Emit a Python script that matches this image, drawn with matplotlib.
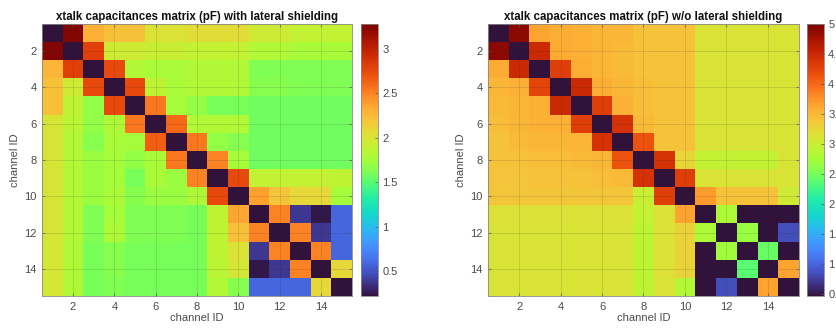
import matplotlib
matplotlib.use("Agg")
import matplotlib.pyplot as plt
import numpy as np

plt.rcParams['font.family'] = ['Liberation Sans', 'DejaVu Sans']

# channel IDs and tick values
channels = list(range(1, 16))
axis_ticks = [2, 4, 6, 8, 10, 12, 14]
cbar_ticks_shield = [0.5, 1, 1.5, 2, 2.5, 3]
cbar_ticks_noshield = [0.5, 1, 1.5, 2, 2.5, 3, 3.5, 4, 4.5, 5]

# xtalk capacitances (pF) with lateral shielding, rows = channel, cols = channel
cap_shield = [
    [0.20, 3.25, 2.30, 2.22, 2.22, 2.02, 2.02, 2.05, 2.05, 2.05, 1.95, 1.95, 1.90, 1.90, 1.90],
    [3.25, 0.20, 2.80, 1.95, 1.95, 1.92, 1.92, 1.90, 1.90, 1.90, 1.82, 1.82, 1.78, 1.78, 1.78],
    [2.28, 2.80, 0.20, 2.75, 1.82, 1.78, 1.78, 1.82, 1.82, 1.82, 1.62, 1.62, 1.62, 1.62, 1.62],
    [2.22, 1.95, 2.75, 0.20, 2.75, 1.88, 1.78, 1.82, 1.82, 1.82, 1.65, 1.65, 1.62, 1.62, 1.62],
    [2.22, 1.88, 1.68, 2.75, 0.20, 2.55, 1.75, 1.68, 1.60, 1.60, 1.58, 1.58, 1.58, 1.58, 1.58],
    [2.00, 1.85, 1.68, 1.80, 2.55, 0.20, 2.60, 1.82, 1.82, 1.82, 1.58, 1.58, 1.58, 1.58, 1.58],
    [2.00, 1.82, 1.65, 1.78, 1.75, 2.65, 0.20, 2.55, 1.68, 1.65, 1.58, 1.58, 1.58, 1.58, 1.58],
    [2.00, 1.82, 1.72, 1.75, 1.68, 1.78, 2.55, 0.20, 2.50, 1.75, 1.58, 1.58, 1.58, 1.58, 1.58],
    [2.00, 1.82, 1.72, 1.75, 1.60, 1.78, 1.72, 2.50, 0.20, 2.75, 1.90, 1.90, 1.90, 1.90, 1.88],
    [2.00, 1.82, 1.72, 1.78, 1.65, 1.72, 1.72, 1.80, 2.75, 0.20, 2.38, 2.20, 2.08, 2.08, 1.75],
    [2.00, 1.82, 1.62, 1.75, 1.62, 1.62, 1.62, 1.60, 1.88, 2.35, 0.20, 2.50, 0.38, 0.25, 0.58],
    [2.00, 1.82, 1.62, 1.80, 1.62, 1.62, 1.62, 1.60, 1.88, 2.22, 2.50, 0.20, 2.50, 0.38, 0.58],
    [1.98, 1.80, 1.60, 1.65, 1.60, 1.60, 1.60, 1.60, 1.88, 2.02, 0.38, 2.50, 0.20, 2.50, 0.58],
    [1.98, 1.80, 1.60, 1.65, 1.60, 1.60, 1.60, 1.60, 1.85, 1.98, 0.25, 0.38, 2.50, 0.20, 2.08],
    [1.98, 1.80, 1.60, 1.62, 1.60, 1.60, 1.60, 1.60, 1.82, 1.65, 0.58, 0.58, 0.58, 2.08, 0.20],
]

# xtalk capacitances (pF) without lateral shielding
cap_noshield = [
    [0.40, 4.90, 3.65, 3.58, 3.55, 3.52, 3.50, 3.42, 3.42, 3.42, 3.12, 3.12, 3.12, 3.12, 3.12],
    [4.90, 0.40, 4.50, 3.60, 3.55, 3.52, 3.48, 3.42, 3.42, 3.42, 3.12, 3.12, 3.12, 3.12, 3.12],
    [3.60, 4.50, 0.40, 4.30, 3.58, 3.52, 3.48, 3.42, 3.42, 3.42, 3.12, 3.12, 3.12, 3.12, 3.12],
    [3.50, 3.55, 4.25, 0.40, 4.50, 3.58, 3.50, 3.45, 3.42, 3.42, 3.12, 3.12, 3.12, 3.12, 3.12],
    [3.48, 3.52, 3.55, 4.50, 0.40, 4.30, 3.55, 3.45, 3.42, 3.42, 3.12, 3.12, 3.12, 3.12, 3.12],
    [3.45, 3.50, 3.55, 3.55, 4.30, 0.40, 4.40, 3.48, 3.42, 3.42, 3.12, 3.12, 3.12, 3.12, 3.12],
    [3.42, 3.48, 3.50, 3.50, 3.52, 4.40, 0.40, 4.15, 3.42, 3.42, 3.12, 3.12, 3.12, 3.12, 3.12],
    [3.42, 3.42, 3.45, 3.45, 3.48, 3.50, 4.15, 0.40, 4.40, 3.25, 2.95, 2.95, 2.95, 2.95, 3.10],
    [3.40, 3.40, 3.42, 3.42, 3.42, 3.45, 3.48, 4.40, 0.40, 4.30, 3.12, 3.12, 3.12, 3.12, 3.12],
    [3.38, 3.38, 3.38, 3.38, 3.38, 3.38, 3.38, 3.00, 4.30, 0.40, 3.70, 3.42, 3.42, 3.42, 3.05],
    [3.15, 3.15, 3.15, 3.15, 3.15, 3.15, 3.15, 2.95, 3.15, 3.65, 0.40, 2.80, 0.40, 0.40, 0.40],
    [3.12, 3.12, 3.12, 3.12, 3.12, 3.12, 3.12, 2.92, 3.15, 3.28, 2.80, 0.40, 2.68, 0.40, 0.85],
    [3.12, 3.12, 3.12, 3.12, 3.12, 3.12, 3.12, 2.92, 3.15, 3.28, 0.40, 2.72, 0.40, 2.45, 0.40],
    [3.12, 3.12, 3.12, 3.12, 3.12, 3.12, 3.12, 2.92, 3.15, 3.28, 0.40, 0.40, 2.38, 0.40, 3.65],
    [3.12, 3.12, 3.12, 3.12, 3.12, 3.12, 3.12, 2.92, 3.12, 2.85, 0.40, 0.85, 0.40, 3.65, 0.40],
]

titles = ["xtalk capacitances matrix (pF) with lateral shielding",
          "xtalk capacitances matrix (pF) w/o lateral shielding"]

W, H = 837, 329
fig = plt.figure(figsize=(W / 100, H / 100), dpi=100)

text_gray = "#4a4a4a"


def draw_panel(ax_rect, cb_rect, data, title, clim, cticks):
    ax = fig.add_axes(ax_rect)
    n = len(channels)
    im = ax.imshow(np.array(data), cmap="turbo", vmin=clim[0], vmax=clim[1],
                   aspect="auto", interpolation="nearest",
                   extent=[0.5, n + 0.5, n + 0.5, 0.5])
    ax.set_xticks(axis_ticks)
    ax.set_yticks(axis_ticks)
    ax.tick_params(direction="in", length=2.5, width=0.5, labelsize=8,
                   colors="#555555", labelcolor=text_gray,
                   top=True, right=True, pad=4)
    ax.grid(True, color="#222222", alpha=0.15, linewidth=0.6)
    for s in ax.spines.values():
        s.set_color("#888888")
        s.set_linewidth(0.6)
    ax.set_xlabel("channel ID", fontsize=8, color=text_gray, labelpad=1)
    ax.set_ylabel("channel ID", fontsize=8, color=text_gray, labelpad=3)
    ax.set_title(title, fontsize=8.3, fontweight="bold", color="#111111", pad=3)

    cax = fig.add_axes(cb_rect)
    cb = fig.colorbar(im, cax=cax, ticks=cticks)
    cb.ax.set_yticklabels([f"{t:g}" for t in cticks])
    cb.ax.tick_params(direction="in", length=2.5, width=0.5, labelsize=8,
                      colors="#555555", labelcolor=text_gray, pad=3)
    cb.outline.set_edgecolor("#888888")
    cb.outline.set_linewidth(0.6)
    return ax


ax_bottom = (H - 296) / H
ax_height = 272 / H

draw_panel([42 / W, ax_bottom, 310 / W, ax_height],
           [361 / W, ax_bottom, 17 / W, ax_height],
           cap_shield, titles[0], (0.22, 3.28), cbar_ticks_shield)

draw_panel([488 / W, ax_bottom, 311 / W, ax_height],
           [807 / W, ax_bottom, 17 / W, ax_height],
           cap_noshield, titles[1], (0.47, 5.0), cbar_ticks_noshield)

fig.savefig("out.png", dpi=100)
